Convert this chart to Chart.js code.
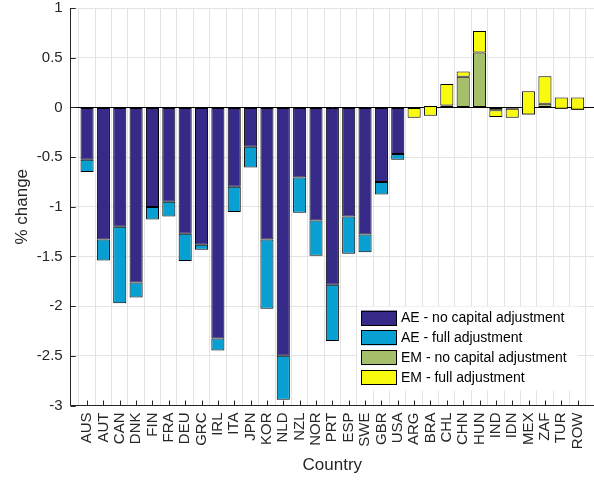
<!DOCTYPE html>
<html>
<head>
<meta charset="utf-8">
<script src="https://cdn.jsdelivr.net/npm/chart.js@4.4.1/dist/chart.umd.min.js"></script>
<style>
  html, body { margin: 0; padding: 0; background: #fff; }
  #wrap { width: 594px; height: 483px; }
</style>
</head>
<body>
<div id="wrap"><canvas id="c" width="594" height="483"></canvas></div>
<script>
// advanced economies, then emerging markets (same order as the x axis)
const aeCountries = ['AUS','AUT','CAN','DNK','FIN','FRA','DEU','GRC','IRL','ITA','JPN','KOR','NLD','NZL','NOR','PRT','ESP','SWE','GBR','USA'];
const emCountries = ['ARG','BRA','CHL','CHN','HUN','IND','IDN','MEX','ZAF','TUR','ROW'];

// % change, level reached by each scenario
const aeNoCap = [-0.527,-1.329,-1.20,-1.762,-1.003,-0.95,-1.272,-1.382,-2.326,-0.799,-0.396,-1.329,-2.50,-0.705,-1.138,-1.785,-1.097,-1.279,-0.752,-0.47];
const aeFull  = [-0.651,-1.54,-1.97,-1.913,-1.128,-1.097,-1.547,-1.433,-2.446,-1.054,-0.604,-2.027,-2.943,-1.06,-1.493,-2.352,-1.473,-1.457,-0.876,-0.527];
const emNoCap = [0,0.013,0.02,0.309,0.551,-0.03,-0.013,-0.072,0.037,-0.013,-0.023];
const emFull  = [-0.105,-0.084,0.235,0.362,0.768,-0.096,-0.104,0.162,0.312,0.10,0.10];

const seriesLabels = ['AE - no capital adjustment','AE - full adjustment','EM - no capital adjustment','EM - full adjustment'];
const seriesColors = ['#352a87','#08a0d2','#a5bf6b','#f9fb0e'];
const yTickValues = [-3,-2.5,-2,-1.5,-1,-0.5,0,0.5,1];

const countries = aeCountries.concat(emCountries);
const FONT = "'Liberation Sans', Arial, Helvetica, sans-serif";
const INK = '#262626';

// full adjustment sits on top of the no-capital bar (MATLAB stacked look)
const aeNoCapPts = aeNoCap.map((v, i) => ({ x: i + 1, y: v }));
const aeFullPts = aeFull.map((v, i) => ({ x: i + 1, y: [aeNoCap[i], v] }));
const emNoCapPts = emNoCap.map((v, i) => ({ x: aeCountries.length + i + 1, y: v }));
const emFullPts = emFull.map((v, i) => ({ x: aeCountries.length + i + 1, y: [emNoCap[i], v] }));

const barStyle = (idx, order) => ({
    label: seriesLabels[idx],
    backgroundColor: seriesColors[idx],
    borderColor: '#000',
    borderWidth: 1,
    borderSkipped: false,
    grouped: false,
    barPercentage: 0.8,
    categoryPercentage: 1,
    order: order
});

const inwardTicks = {
    id: 'inwardTicks',
    afterDatasetsDraw(chart) {
        const { ctx, chartArea: a, scales: { x, y } } = chart;
        ctx.save();
        ctx.strokeStyle = INK;
        ctx.lineWidth = 1;
        ctx.beginPath();
        x.ticks.forEach(t => {
            const px = Math.round(x.getPixelForValue(t.value)) + 0.5;
            ctx.moveTo(px, a.bottom);
            ctx.lineTo(px, a.bottom - 5);
        });
        y.ticks.forEach(t => {
            const py = Math.round(y.getPixelForValue(t.value)) + 0.5;
            ctx.moveTo(a.left, py);
            ctx.lineTo(a.left + 5, py);
        });
        ctx.stroke();
        ctx.restore();
    }
};

const boxLegend = {
    id: 'boxLegend',
    afterDraw(chart) {
        const { ctx, chartArea: a } = chart;
        const left = a.right - 237, top = a.bottom - 99;
        ctx.save();
        ctx.fillStyle = '#fff';
        ctx.fillRect(left, top, 221, 84);
        ctx.font = '14px ' + FONT;
        ctx.textBaseline = 'middle';
        chart.data.datasets.forEach((ds, i) => {
            const cy = top + 11.5 + i * 19.8;
            ctx.fillStyle = ds.backgroundColor;
            ctx.fillRect(left + 4, cy - 7.5, 36, 15);
            ctx.strokeStyle = '#000';
            ctx.strokeRect(left + 4.5, Math.round(cy - 7.5) + 0.5, 35, 14);
            ctx.fillStyle = '#000';
            ctx.fillText(ds.label, left + 44, cy + 0.5);
        });
        ctx.restore();
    }
};

new Chart(document.getElementById('c'), {
    type: 'bar',
    data: {
        datasets: [
            { ...barStyle(0, 1), data: aeNoCapPts },
            { ...barStyle(1, 0), data: aeFullPts },
            { ...barStyle(2, 1), data: emNoCapPts },
            { ...barStyle(3, 0), data: emFullPts }
        ]
    },
    options: {
        responsive: false,
        animation: false,
        devicePixelRatio: 1,
        layout: { padding: { top: 8, right: 0, left: 0, bottom: 0 } },
        plugins: { legend: { display: false }, tooltip: { enabled: false } },
        scales: {
            x: {
                type: 'linear',
                offset: false,
                min: 0,
                max: countries.length + 1,
                afterBuildTicks: s => { s.ticks = countries.map((c, i) => ({ value: i + 1 })); },
                afterFit: s => { s.height = 77.5; s.paddingLeft = 0; s.paddingRight = 0; },
                ticks: {
                    autoSkip: false,
                    minRotation: 90,
                    maxRotation: 90,
                    padding: 7,
                    color: INK,
                    font: { family: FONT, size: 15 },
                    callback: v => countries[v - 1] || ''
                },
                grid: { color: '#e3e3e3', drawTicks: false },
                border: { display: true, color: INK },
                title: { display: true, text: 'Country', color: INK, font: { family: FONT, size: 17 }, padding: { top: 0, bottom: 7 } }
            },
            y: {
                min: -3,
                max: 1,
                afterBuildTicks: s => { s.ticks = yTickValues.map(v => ({ value: v })); },
                afterFit: s => { s.width = 70.7; s.paddingTop = 0; s.paddingBottom = 0; },
                ticks: {
                    padding: 8,
                    color: INK,
                    font: { family: FONT, size: 15 },
                    callback: v => String(v)
                },
                grid: { color: c => (c.tick && c.tick.value === 0 ? '#000' : '#e3e3e3'), drawTicks: false },
                border: { display: true, color: INK },
                title: { display: true, text: '% change', color: INK, font: { family: FONT, size: 17 }, padding: { top: 12, bottom: 0 } }
            }
        }
    },
    plugins: [inwardTicks, boxLegend]
});
</script>
</body>
</html>
